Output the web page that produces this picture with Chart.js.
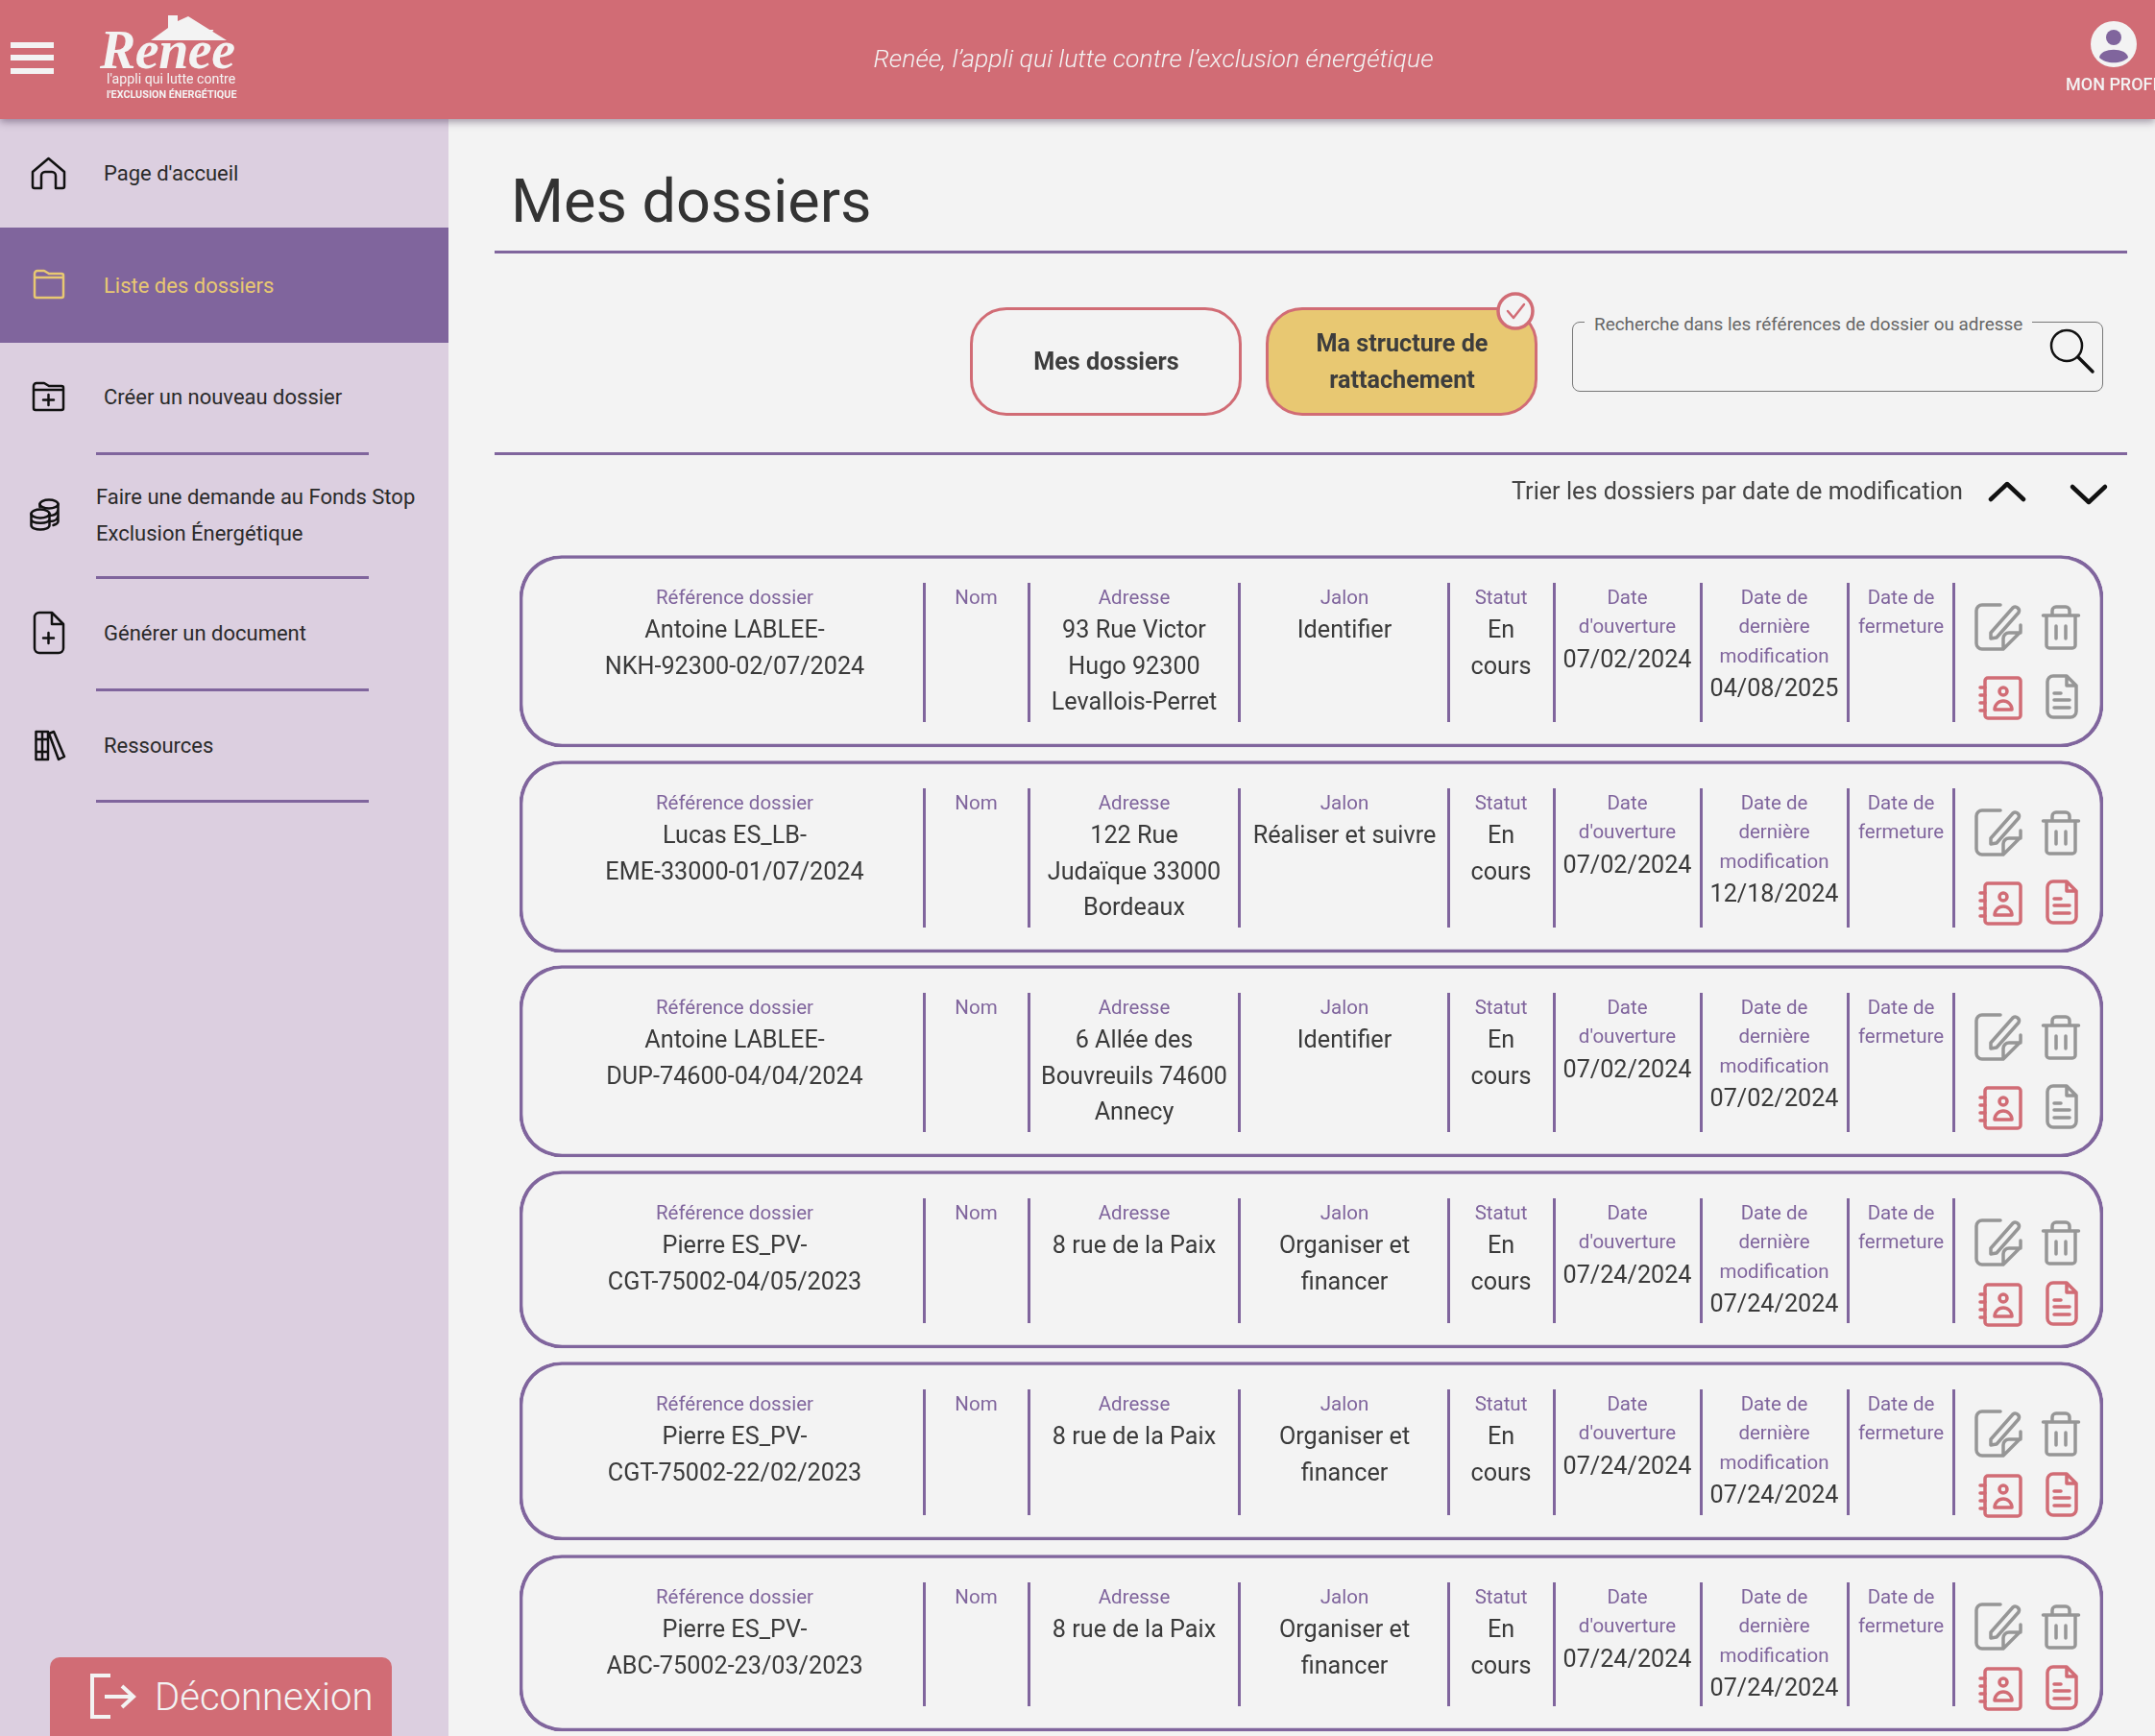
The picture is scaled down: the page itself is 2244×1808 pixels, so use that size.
<!DOCTYPE html>
<html lang="fr">
<head>
<meta charset="utf-8">
<title>Mes dossiers</title>
<script src="https://cdn.jsdelivr.net/npm/chart.js@4"></script>
<style>
  html, body { margin: 0; padding: 0; width: 2244px; height: 1808px; overflow: hidden; background: #f3f3f3; font-family: Roboto, sans-serif; color: #3a3a3a; }
  .box { position: absolute; box-sizing: border-box; }
  .t { position: absolute; white-space: nowrap; }
  .mid { transform: translateY(-50%); }
  .ctr { transform: translate(-50%, -50%); }
  #header { left: 0; top: 0; width: 2244px; height: 124px; background: #d16c75; box-shadow: 0 3px 8px rgba(60,40,70,.45); z-index: 3; }
  #sidebar { left: 0; top: 124px; width: 467px; height: 1684px; background: #dccfe0; }
  #active { left: 0; top: 237px; width: 467px; height: 120px; background: #80659d; }
  .rule { background: #80659d; position: absolute; }
  .menu { font-size: 22px; color: #2a2a2a; }
  .cell { position: absolute; text-align: center; transform: translateX(-50%); white-space: nowrap; }
  .lab { font-size: 20.5px; line-height: 30.6px; color: #80659d; }
  .val { font-size: 25.2px; line-height: 37.5px; color: #3a3a3a; }
  #cards { position: absolute; left: 541px; top: 0; }
  svg { position: absolute; overflow: visible; fill: none; stroke-linecap: round; stroke-linejoin: round; }
</style>
</head>
<body>
<div class="box" id="sidebar"></div>
<div class="box" id="active"></div>
<canvas id="cards" width="1649" height="1808"></canvas>
<div class="box" id="header"></div>
<div id="ui"></div>

<script>
// --- data ---
const menuLabels = ["Page d'accueil", "Liste des dossiers", "Créer un nouveau dossier", "Générer un document", "Ressources"];
const columnLabels = [["Référence dossier"], ["Nom"], ["Adresse"], ["Jalon"], ["Statut"], ["Date", "d'ouverture"], ["Date de", "dernière", "modification"], ["Date de", "fermeture"]];
const references = [
  ["Antoine LABLEE-", "NKH-92300-02/07/2024"],
  ["Lucas ES_LB-", "EME-33000-01/07/2024"],
  ["Antoine LABLEE-", "DUP-74600-04/04/2024"],
  ["Pierre ES_PV-", "CGT-75002-04/05/2023"],
  ["Pierre ES_PV-", "CGT-75002-22/02/2023"],
  ["Pierre ES_PV-", "ABC-75002-23/03/2023"]
];
const adresses = [
  ["93 Rue Victor", "Hugo 92300", "Levallois-Perret"],
  ["122 Rue", "Judaïque 33000", "Bordeaux"],
  ["6 Allée des", "Bouvreuils 74600", "Annecy"],
  ["8 rue de la Paix"],
  ["8 rue de la Paix"],
  ["8 rue de la Paix"]
];
const jalons = [["Identifier"], ["Réaliser et suivre"], ["Identifier"], ["Organiser et", "financer"], ["Organiser et", "financer"], ["Organiser et", "financer"]];
const statuts = ["En", "cours"];
const ouvertures = ["07/02/2024", "07/02/2024", "07/02/2024", "07/24/2024", "07/24/2024", "07/24/2024"];
const modifications = ["04/08/2025", "12/18/2024", "07/02/2024", "07/24/2024", "07/24/2024", "07/24/2024"];
const documentsActifs = [false, true, false, true, true, true];

// --- layout, in page pixels ---
const RED = '#d16c75', PURPLE = '#80659d', GREY = '#969696';
const cardTops = [578.5, 792.5, 1005.5, 1219.5, 1418.5, 1619.5];
const cardHeights = [199.5, 199.5, 199.5, 184.5, 185.5, 183.5];
const dividers = [962, 1071, 1290, 1508, 1618, 1771, 1924, 2034];
const colCenters = [765, 1016.5, 1181, 1400, 1563, 1694.5, 1847.5, 1979.5];

const ui = document.getElementById('ui');
ui.style.cssText = 'position:absolute;left:0;top:0;z-index:4';

function text(x, y, str, css, cls) {
  const el = document.createElement('div');
  el.className = 't ' + (cls || 'mid');
  el.style.cssText = `left:${x}px;top:${y}px;${css || ''}`;
  el.textContent = str;
  ui.appendChild(el);
  return el;
}
function rule(x, y, w, h) {
  const el = document.createElement('div');
  el.className = 'rule';
  el.style.cssText = `left:${x}px;top:${y}px;width:${w}px;height:${h}px`;
  ui.appendChild(el);
}
function icon(x, y, w, h, color, sw, inner) {
  ui.insertAdjacentHTML('beforeend',
    `<svg style="left:${x}px;top:${y}px" width="${w}" height="${h}" viewBox="0 0 ${w} ${h}" stroke="${color}" stroke-width="${sw}">${inner}</svg>`);
}

// --- header ---
[44, 57, 71].forEach(y => { const e = document.createElement('div'); e.className = 'box'; e.style.cssText = `left:11px;top:${y}px;width:45px;height:6px;background:#f3f3f3`; ui.appendChild(e); });
icon(150, 14, 90, 30, 'none', 0, '<path fill="#f3f3f3" d="M7 28 L25 15 V2 H35 V8 L46 3 L86 28 Z"/>');
text(104, 52, 'Renée', 'font:italic bold 56px "Liberation Serif";color:#f3f3f3;letter-spacing:-.5px');
text(111, 82, "l'appli qui lutte contre", 'font-size:14.2px;color:#f3f3f3');
text(111, 98, "l'EXCLUSION ÉNERGÉTIQUE", 'font-size:10.8px;font-weight:700;color:#f3f3f3');
text(1201, 59.5, "Renée, l’appli qui lutte contre l’exclusion énergétique", 'font-size:26.6px;font-style:italic;font-weight:300;color:#f3f3f3', 'ctr');
icon(2177, 22, 48, 48, 'none', 0, `<circle cx="24" cy="24" r="24" fill="#f3f3f3"/><circle cx="24" cy="17" r="8" fill="${PURPLE}"/><path fill="${PURPLE}" d="M9 38 C10 27 38 27 39 38 C32 45 16 45 9 38 Z"/>`);
text(2151, 87, 'MON PROFIL', 'font-size:18px;font-weight:500;color:#f3f3f3');

// --- sidebar ---
text(108, 179.5, menuLabels[0], '', 'mid menu');
text(108, 296.5, menuLabels[1], 'color:#e8c872', 'mid menu');
text(108, 412.5, menuLabels[2], '', 'mid menu');
text(100, 516.5, 'Faire une demande au Fonds Stop', '', 'mid menu');
text(100, 554.5, 'Exclusion Énergétique', '', 'mid menu');
text(108, 658.5, menuLabels[3], '', 'mid menu');
text(108, 775.5, menuLabels[4], '', 'mid menu');
[471, 600, 717, 833].forEach(y => rule(100, y, 284, 3));

const INK = '#111';
icon(32, 163, 37, 35, INK, 2.5, '<path d="M2 16 L18.5 2 L35 16 V31 a2 2 0 0 1 -2 2 H26 V20 a4 4 0 0 0 -4 -4 H15 a4 4 0 0 0 -4 4 V33 H4 a2 2 0 0 1 -2 -2 Z"/>');
icon(34, 280, 34, 31, '#e8c872', 2.5, '<path d="M2 8 V5 a3 3 0 0 1 3 -3 H12 L17 5 H30 a2 2 0 0 1 2 2 V28 a2 2 0 0 1 -2 2 H4 a2 2 0 0 1 -2 -2 Z M2 9 H32"/>');
icon(33, 397, 35, 32, INK, 2.5, '<path d="M2 8 V5 a3 3 0 0 1 3 -3 H13 L18 5 H31 a2 2 0 0 1 2 2 V28 a2 2 0 0 1 -2 2 H4 a2 2 0 0 1 -2 -2 Z M2 9 H33 M17.5 14 V25 M12 19.5 H23"/>');
icon(31, 519, 31, 34, INK, 2.5, '<ellipse cx="20" cy="6" rx="9.5" ry="4.5"/><path d="M10.5 6 V9 M29.5 6 V24 c0 2 -2 3 -5 4 M20.5 18 c4 0 8 -1 9 -6 M21 24 c4 0 8 -1 8.500 -6"/><ellipse cx="11" cy="16" rx="9.5" ry="4.5"/><path d="M1.500 16 V28 c0 6 19 6 19 0 V16 M1.500 22 c1 5 18 5 19 0"/>');
icon(34, 636, 34, 46, INK, 2.5, '<path d="M20 2 H7 a5 5 0 0 0 -5 5 V39 a5 5 0 0 0 5 5 H27 a5 5 0 0 0 5 -5 V14 Z M20 2 V14 H32 M16.5 23 V34 M11 28.5 H22"/>');
icon(36, 760, 32, 33, INK, 2.5, '<path d="M1.500 2 H14 V31 H1.500 Z M8 2 V31 M1.500 10 H14 M1.500 23 H14 M15 4 L20 2 L31 28 L25 31 Z"/>');

// logout button
{
  const b = document.createElement('div');
  b.className = 'box';
  b.style.cssText = `left:52px;top:1726px;width:356px;height:82px;background:${RED};border-radius:10px 10px 0 0`;
  ui.appendChild(b);
}
icon(93, 1743, 48, 47, '#f3f3f3', 4, '<path d="M22 2 H3 V45 H22 M16 24 H46 M34 13 L46 24 L34 35" stroke-linecap="butt" stroke-linejoin="miter"/>');
text(161, 1767, 'Déconnexion', 'font-size:40px;font-weight:300;color:#f3f3f3');

// --- page head ---
text(532, 208.5, 'Mes dossiers', 'font-size:63px;color:#333');
rule(515, 261, 1700, 3);
rule(515, 471, 1700, 3);

// --- filter buttons and search ---
function button(x, fill) {
  const b = document.createElement('div');
  b.className = 'box';
  b.style.cssText = `left:${x}px;top:320px;width:283px;height:113px;border:3.5px solid ${RED};border-radius:38px;background:${fill}`;
  ui.appendChild(b);
}
button(1010, 'transparent');
button(1318, '#e8c872');
const BTN = 'font-size:25.2px;font-weight:700;color:#3d3d3d';
text(1152, 376, 'Mes dossiers', BTN, 'ctr');
text(1460, 357, 'Ma structure de', BTN, 'ctr');
text(1460, 395, 'rattachement', BTN, 'ctr');
icon(1558, 304, 40, 40, RED, 3.5, '<circle cx="20" cy="20" r="18" fill="#f3f3f3"/><path d="M12 20 L18 27 L29 13" stroke-width="2.5"/>');

{
  const s = document.createElement('div');
  s.className = 'box';
  s.style.cssText = 'left:1637px;top:335px;width:553px;height:73px;border:1.5px solid #777;border-radius:8px';
  ui.appendChild(s);
}
text(1650, 337, 'Recherche dans les références de dossier ou adresse', 'font-size:18.9px;color:#666;background:#f3f3f3;padding:0 10px');
icon(2134, 342, 47, 47, '#111', 2.5, '<circle cx="18" cy="18" r="16"/><path d="M30 30 L45 45" stroke-width="3.5"/>');

text(1574, 511, 'Trier les dossiers par date de modification', 'font-size:25.2px;color:#444');
icon(2071, 502, 38, 20, '#111', 4.5, '<path d="M2 18 L19 2 L36 18"/>');
icon(2156, 505, 38, 20, '#111', 4.5, '<path d="M2 2 L19 18 L36 2"/>');

// --- dossier rows ---
function cell(center, top, labels, values) {
  const c = document.createElement('div');
  c.className = 'cell';
  c.style.cssText = `left:${center}px;top:${top}px`;
  labels.forEach(l => { const d = document.createElement('div'); d.className = 'lab'; d.textContent = l; c.appendChild(d); });
  values.forEach(v => { const d = document.createElement('div'); d.className = 'val'; d.textContent = v; c.appendChild(d); });
  ui.appendChild(c);
}
function rowIcons(top, short, docColor) {
  const lower = short ? 116 : 125;
  icon(2056, top + 49, 50, 50, GREY, 3.5, '<path d="M27 2 H8 a6 6 0 0 0 -6 6 V42 a6 6 0 0 0 6 6 H30 L48 30 V23 M30 48 V37 a6 6 0 0 1 6 -6 H48 M17 31 L40 5 a4 4 0 0 1 6 5 L23 36 L17 37 Z"/>');
  icon(2126, top + 51, 40, 47, GREY, 3.5, '<path d="M1.500 11 H38.500 M11 11 V6 a4 4 0 0 1 4 -4 H25 a4 4 0 0 1 4 4 V11 M5 11 V42 a3 3 0 0 0 3 3 H32 a3 3 0 0 0 3 -3 V11 M15 22 V35 M25 22 V35"/>');
  icon(2061, top + lower, 45, 46, RED, 3.5, '<rect x="6" y="2" width="37" height="42" rx="3"/><path d="M1 12 H6 M1 20 H6 M1 28 H6 M1 36 H6"/><circle cx="25" cy="16" r="4"/><path d="M16 35 a9 9 0 0 1 18 0 Z"/>');
  icon(2130, top + lower - 2, 34, 47, docColor, 3.5, '<path d="M22 2 H8 a6 6 0 0 0 -6 6 V39 a6 6 0 0 0 6 6 H26 a6 6 0 0 0 6 -6 V12 Z M22 2 V12 H32 M9 20 H16 M9 27 H25 M9 35 H25"/>');
}

references.forEach((ref, i) => {
  const top = cardTops[i] + 28, short = cardHeights[i] < 190;
  const h = cardHeights[i] - 55;
  dividers.forEach(x => rule(x - 1.5, Math.round(top), 3, Math.round(h)));
  cell(colCenters[0], top, columnLabels[0], ref);
  cell(colCenters[1], top, columnLabels[1], []);
  cell(colCenters[2], top, columnLabels[2], adresses[i]);
  cell(colCenters[3], top, columnLabels[3], jalons[i]);
  cell(colCenters[4], top, columnLabels[4], statuts);
  cell(colCenters[5], top, columnLabels[5], [ouvertures[i]]);
  cell(colCenters[6], top, columnLabels[6], [modifications[i]]);
  cell(colCenters[7], top, columnLabels[7], []);
  rowIcons(Math.round(cardTops[i]), short, documentsActifs[i] ? RED : GREY);
});

// --- the row outlines are floating bars, one dataset per dossier ---
new Chart(document.getElementById('cards'), {
  type: 'bar',
  data: {
    labels: ['Dossiers'],
    datasets: references.map((ref, i) => ({
      label: ref.join(''),
      data: [[cardTops[i], cardTops[i] + cardHeights[i]]],
      backgroundColor: 'transparent',
      borderColor: PURPLE,
      borderWidth: 3,
      borderRadius: 44,
      borderSkipped: false,
      barPercentage: 1,
      categoryPercentage: 1
    }))
  },
  options: {
    responsive: false,
    animation: false,
    devicePixelRatio: 1,
    layout: { padding: 0 },
    scales: {
      x: { display: false, stacked: true },
      y: { display: false, reverse: true, min: 0, max: 1808 }
    },
    plugins: { legend: { display: false }, tooltip: { enabled: false } }
  }
});
</script>
</body>
</html>
